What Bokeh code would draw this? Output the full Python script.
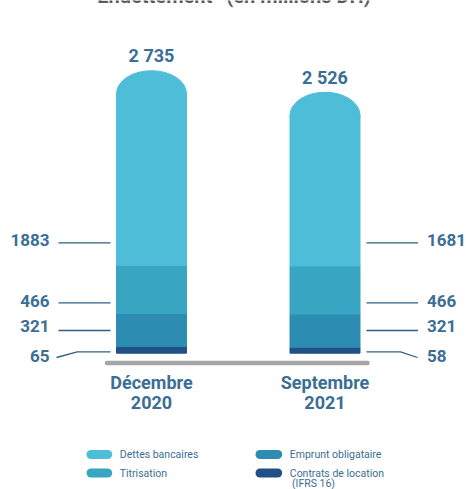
from bokeh.plotting import figure
from bokeh.models import Range1d
from bokeh.core.properties import value
from bokeh.embed import file_html
from bokeh.resources import INLINE

# ---------------- data ----------------
title_text = "Endettement* (en millions DH)"
categories = ["Décembre 2020", "Septembre 2021"]
dettes_bancaires = [1883, 1681]
titrisation = [466, 466]
emprunt_obligataire = [321, 321]
contrats_location = [65, 58]
totals = [2735, 2526]
total_labels = ["2 735", "2 526"]
series_names = ["Dettes bancaires", "Titrisation", "Emprunt obligataire", "Contrats de location", "(IFRS 16)"]

# ---------------- style ----------------
C_DETTES = "#4dbdd8"
C_TITRI = "#38a6c2"
C_EMPRUNT = "#2c8cb2"
C_CONTRATS = "#1f5186"
TXT = "#3b6e94"
LEAD = "#2f5f85"
FONT = value("Roboto")

W, H = 466, 489
BASE_PX = 352.7      # screen y of the bars' base
SCALE = 0.1033       # px per million DH
X0_PX, XSTEP = 151.0, 173.5


def dy(px):
    return (BASE_PX - px) / SCALE


def dx(px):
    return (px - X0_PX) / XSTEP


p = figure(width=W, height=H, x_range=Range1d(dx(0), dx(W)), y_range=Range1d(dy(H), dy(0)),
           output_backend="svg", toolbar_location=None, min_border=0,
           x_axis_location=None, y_axis_location=None)
p.grid.visible = False
p.outline_line_color = None

xs = list(range(len(categories)))
b1 = contrats_location
b2 = [a + b for a, b in zip(b1, emprunt_obligataire)]
b3 = [a + b for a, b in zip(b2, titrisation)]
top = [a + b for a, b in zip(b3, dettes_bancaires)]

bw = 70 / XSTEP
cap_px = 23
cap = cap_px / SCALE

p.vbar(x=xs, bottom=[0] * len(xs), top=b1, width=bw, color=C_CONTRATS)
p.vbar(x=xs, bottom=b1, top=b2, width=bw, color=C_EMPRUNT)
p.vbar(x=xs, bottom=b2, top=b3, width=bw, color=C_TITRI)
p.vbar(x=xs, bottom=b3, top=[t - cap for t in top], width=bw, color=C_DETTES)
p.ellipse(x=xs, y=[t - cap for t in top], width=70, height=2 * cap_px,
          width_units="screen", height_units="screen", color=C_DETTES)

# baseline
p.segment(x0=[dx(106.5)], y0=[dy(362.5)], x1=[dx(367)], y1=[dy(362.5)],
          line_color="#a5a5a5", line_width=4.5, line_cap="round")

# total labels
p.text(x=xs, y=[t + 15 / SCALE for t in totals], text=total_labels, text_align="center",
       text_baseline="middle", text_font=FONT, text_font_style="bold",
       text_font_size="18px", text_color=TXT)

# category labels
line1 = [c.split(" ")[0] for c in categories]
line2 = [c.split(" ")[1] for c in categories]
p.text(x=xs, y=[dy(382)] * 2, text=line1, text_align="center", text_baseline="middle",
       text_font=FONT, text_font_style="bold", text_font_size="18px", text_color=TXT)
p.text(x=xs, y=[dy(402)] * 2, text=line2, text_align="center", text_baseline="middle",
       text_font=FONT, text_font_style="bold", text_font_size="18px", text_color=TXT)

# side value labels with leader lines
label_y_px = [239, 300, 325, 355]
lead_y_px = [242.3, 302.3, 330, 351.3]
left_vals = [str(v[0]) for v in (dettes_bancaires, titrisation, emprunt_obligataire, contrats_location)]
right_vals = [str(v[1]) for v in (dettes_bancaires, titrisation, emprunt_obligataire, contrats_location)]

p.text(x=[dx(49)] * 4, y=[dy(v) for v in label_y_px], text=left_vals, text_align="right",
       text_baseline="middle", text_font=FONT, text_font_style="bold", text_font_size="17px",
       text_color=TXT)
p.text(x=[dx(426.5)] * 4, y=[dy(v) for v in label_y_px], text=right_vals, text_align="left",
       text_baseline="middle", text_font=FONT, text_font_style="bold", text_font_size="17px",
       text_color=TXT)

lx, ly = [], []
for yy in lead_y_px[:3]:
    lx.append([dx(58), dx(110)]); ly.append([dy(yy), dy(yy)])
    lx.append([dx(366), dx(417.5)]); ly.append([dy(yy), dy(yy)])
lx.append([dx(56), dx(76.7), dx(110)]); ly.append([dy(357), dy(lead_y_px[3]), dy(lead_y_px[3])])
lx.append([dx(366), dx(400), dx(417)]); ly.append([dy(lead_y_px[3]), dy(lead_y_px[3]), dy(357)])
p.multi_line(xs=lx, ys=ly, line_color=LEAD, line_width=1.3)

# title (cut at the top in the reference)
p.text(x=[dx(233.5)], y=[dy(-4.5)], text=[title_text], text_align="center",
       text_baseline="alphabetic", text_font=FONT, text_font_style="bold",
       text_font_size="20px", text_color="#5a5a5a")

# legend
pill_x = [(90.5, 107.2), (90.5, 107.2), (259.5, 277.2), (259.5, 277.2)]
pill_y = [454, 472.5, 454, 472.5]
pill_c = [C_DETTES, C_TITRI, C_EMPRUNT, C_CONTRATS]
p.segment(x0=[dx(a) for a, b in pill_x], x1=[dx(b) for a, b in pill_x],
          y0=[dy(v) for v in pill_y], y1=[dy(v) for v in pill_y],
          line_color=pill_c, line_width=9, line_cap="round")
p.text(x=[dx(119.3), dx(119.3), dx(289.3), dx(289.3), dx(291.5)],
       y=[dy(454), dy(472.5), dy(454), dy(472.5), dy(483)],
       text=series_names, text_align="left", text_baseline="middle",
       text_font=FONT, text_font_size="10.5px", text_color=TXT)

open("out.html", "w").write(file_html(p, INLINE))
